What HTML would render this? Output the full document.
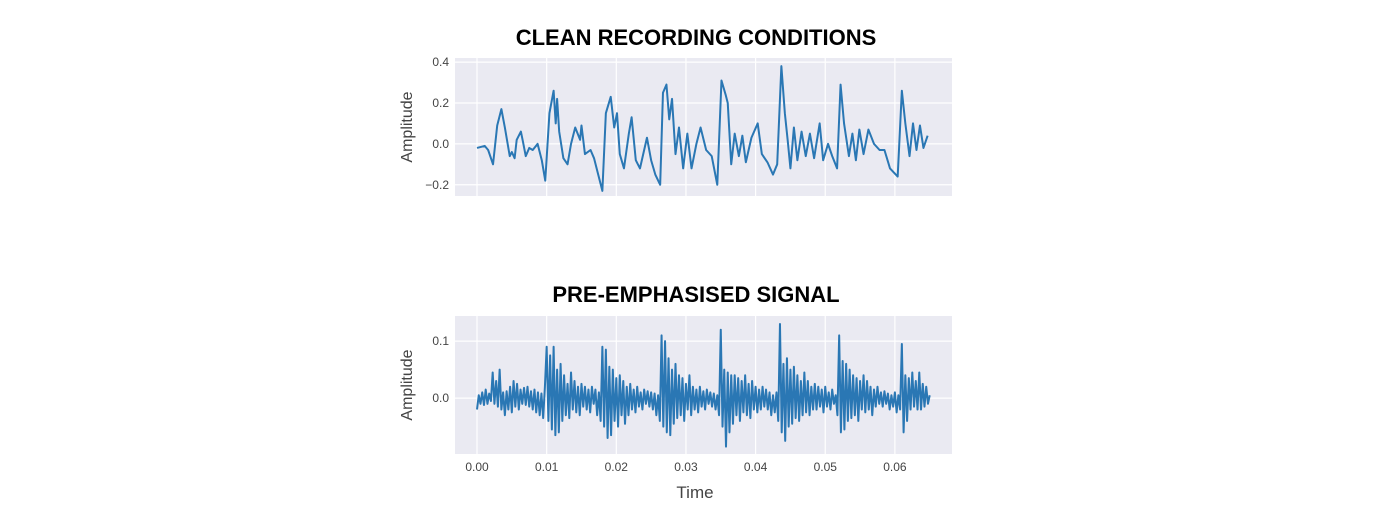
<!DOCTYPE html>
<html><head><meta charset="utf-8"><style>
html,body{margin:0;padding:0;background:#fff;}
body{width:1400px;height:516px;overflow:hidden;font-family:"Liberation Sans",sans-serif;}
</style></head><body>
<svg id="chart" width="1400" height="516" xmlns="http://www.w3.org/2000/svg">
<text x="696" y="45" text-anchor="middle" font-family="Liberation Sans, sans-serif" font-weight="bold" font-size="22" fill="#000">CLEAN RECORDING CONDITIONS</text>
<text x="696" y="302" text-anchor="middle" font-family="Liberation Sans, sans-serif" font-weight="bold" font-size="22" fill="#000">PRE-EMPHASISED SIGNAL</text>
<text x="695" y="498" text-anchor="middle" font-size="17" fill="#444">Time</text>
<g id="top"></g>
<g id="bot"></g>
</svg>
<script>
const xTicks = [0, 0.01, 0.02, 0.03, 0.04, 0.05, 0.06];
const xTickLabels = ["0.00","0.01","0.02","0.03","0.04","0.05","0.06"];
const topYTicks = [-0.2, 0, 0.2, 0.4];
const topYTickLabels = ["\u22120.2","0.0","0.2","0.4"];
const botYTicks = [0, 0.1];
const botYTickLabels = ["0.0","0.1"];
const topTimeMs = [0,1.1,1.6,2.3,2.9,3.5,4.0,4.7,5.0,5.4,5.7,6.3,6.6,7.0,7.5,8.0,8.7,9.3,9.8,10.4,11.0,11.3,11.5,11.8,12.4,13.0,13.5,14.1,14.8,15.0,15.5,16.3,16.8,17.4,18.0,18.5,19.2,19.7,20.1,20.5,21.1,21.8,22.2,22.8,23.4,24.4,25.0,25.6,26.3,26.7,27.2,27.6,28.0,28.5,29.0,29.6,30.2,30.8,31.5,32.1,32.9,33.7,34.5,35.1,35.7,36.0,36.5,37.0,37.6,38.1,38.6,39.4,40.3,40.9,41.7,42.5,43.1,43.7,44.2,44.6,45.0,45.5,46.0,46.6,47.2,47.8,48.4,49.2,49.7,50.4,51.0,51.7,52.2,52.7,53.4,53.9,54.4,54.9,55.5,56.2,57.0,57.8,58.5,59.3,60.4,61.0,61.5,62.1,62.6,63.1,63.6,64.1,64.7];
const topAmp = [-0.02,-0.01,-0.03,-0.10,0.09,0.17,0.08,-0.06,-0.04,-0.07,0.02,0.06,0.01,-0.06,-0.02,-0.03,0.0,-0.08,-0.18,0.15,0.26,0.10,0.22,0.06,-0.07,-0.10,0.0,0.08,0.02,0.09,-0.05,-0.03,-0.07,-0.15,-0.23,0.15,0.23,0.08,0.15,-0.05,-0.12,0.05,0.13,-0.08,-0.12,0.03,-0.08,-0.15,-0.20,0.25,0.29,0.12,0.22,-0.05,0.08,-0.12,0.05,-0.12,0.0,0.08,-0.03,-0.06,-0.20,0.31,0.24,0.20,-0.10,0.05,-0.06,0.04,-0.09,0.03,0.10,-0.05,-0.09,-0.15,-0.10,0.38,0.15,0.02,-0.12,0.08,-0.08,0.06,-0.06,0.05,-0.07,0.10,-0.08,0.0,-0.06,-0.12,0.29,0.10,-0.06,0.05,-0.08,0.07,-0.05,0.07,0.0,-0.03,-0.03,-0.12,-0.16,0.26,0.10,-0.06,0.10,-0.03,0.09,-0.02,0.04];
const botSampleStep = 0.00025;
const botAmp = [-0.02,0.005,-0.01,0.01,-0.012,0.015,-0.01,0.008,-0.005,0.045,-0.01,0.03,-0.015,0.05,-0.02,0.01,-0.03,0.012,-0.02,0.02,-0.025,0.03,-0.015,0.025,-0.02,0.015,-0.01,0.018,-0.012,0.02,-0.015,0.012,-0.02,0.015,-0.025,0.01,-0.03,0.008,-0.035,0.02,
0.09,-0.04,0.075,-0.055,0.09,-0.065,0.05,-0.06,0.06,-0.04,0.04,-0.03,0.025,-0.035,0.045,-0.02,0.03,-0.025,0.02,-0.03,0.025,-0.015,0.02,-0.02,0.015,-0.025,0.02,-0.01,0.015,-0.03,0.01,-0.04,
0.09,-0.05,0.085,-0.07,0.055,-0.065,0.05,-0.04,0.035,-0.05,0.04,-0.03,0.03,-0.045,0.02,-0.03,0.025,-0.02,0.015,-0.025,0.02,-0.015,0.01,-0.02,0.015,-0.01,0.012,-0.015,0.01,-0.02,0.008,-0.03,0.005,-0.04,
0.11,-0.05,0.1,-0.06,0.07,-0.065,0.05,-0.045,0.06,-0.035,0.04,-0.03,0.035,-0.04,0.025,-0.02,0.04,-0.03,0.02,-0.02,0.015,-0.025,0.02,-0.015,0.012,-0.02,0.015,-0.01,0.01,-0.015,0.008,-0.02,0.005,-0.03,
0.12,-0.05,0.05,-0.085,0.045,-0.06,0.04,-0.045,0.04,-0.03,0.035,-0.04,0.03,-0.025,0.04,-0.03,0.025,-0.035,0.03,-0.02,0.02,-0.025,0.015,-0.02,0.02,-0.015,0.015,-0.02,0.01,-0.03,0.005,-0.025,0.01,-0.04,
0.13,-0.06,0.06,-0.075,0.07,-0.05,0.05,-0.045,0.055,-0.035,0.04,-0.04,0.03,-0.03,0.045,-0.025,0.03,-0.03,0.02,-0.02,0.025,-0.02,0.02,-0.015,0.015,-0.025,0.02,-0.015,0.01,-0.02,0.015,-0.01,0.005,-0.03,
0.11,-0.06,0.065,-0.055,0.06,-0.04,0.05,-0.035,0.04,-0.03,0.035,-0.04,0.03,-0.02,0.04,-0.025,0.03,-0.02,0.02,-0.03,0.015,-0.015,0.02,-0.01,0.01,-0.015,0.012,-0.01,0.008,-0.02,0.005,-0.015,0.01,-0.025,0.005,-0.02,
0.095,-0.06,0.04,-0.04,0.035,-0.02,0.045,-0.015,0.03,-0.02,0.045,-0.02,0.025,-0.015,0.02,-0.01,0.005];

const NS = "http://www.w3.org/2000/svg";
const PL = 455, PR = 952;
const xMin = -0.00316, xMax = 0.0682;
function xs(t){ return PL + (t - xMin) / (xMax - xMin) * (PR - PL); }

function mk(tag, attrs, parent){
  const e = document.createElementNS(NS, tag);
  for (const k in attrs) e.setAttribute(k, attrs[k]);
  parent.appendChild(e);
  return e;
}

function drawPanel(g, top, bottom, yMin, yMax, yTicks, yLabels, times, vals, showX, prefix){
  const ys = v => bottom - (v - yMin) / (yMax - yMin) * (bottom - top);
  const bg = mk('rect', {x:PL, y:top, width:PR-PL, height:bottom-top, fill:'#eaeaf2'}, g);
  
  
  xTicks.forEach((t, i) => {
    const l = mk('line', {x1:xs(t), x2:xs(t), y1:top, y2:bottom, stroke:'#fff', 'stroke-width':1.2}, g);
    
    
    if (showX) {
      const tx = mk('text', {x:xs(t), y:bottom+17, 'text-anchor':'middle', 'font-size':12, fill:'#444'}, g);
      tx.textContent = xTickLabels[i];
      
      
    }
  });
  yTicks.forEach((v, i) => {
    const l = mk('line', {x1:PL, x2:PR, y1:ys(v), y2:ys(v), stroke:'#fff', 'stroke-width':1.2}, g);
    
    
    const tx = mk('text', {x:PL-6, y:ys(v)+4, 'text-anchor':'end', 'font-size':12, fill:'#444'}, g);
    tx.textContent = yLabels[i];
    
    
  });
  const cy = (top + bottom) / 2;
  const yt = mk('text', {x:412, y:cy, 'text-anchor':'middle', 'font-size':16, fill:'#444', transform:'rotate(-90 412 ' + cy + ')'}, g);
  yt.textContent = 'Amplitude';
  
  
  let d = '';
  vals.forEach((v, i) => { d += (i ? 'L' : 'M') + xs(times[i]).toFixed(2) + ' ' + ys(v).toFixed(2); });
  const p = mk('path', {d:d, fill:'none', stroke:'#2a77b4', 'stroke-width':2, 'stroke-linejoin':'round'}, g);
  
  
}

const topTimes = topTimeMs.map(m => m / 1000);
drawPanel(document.getElementById('top'), 58, 196, -0.255, 0.42, topYTicks, topYTickLabels, topTimes, topAmp, false, 'top');
const botTimes = botAmp.map((_, i) => i * botSampleStep);
drawPanel(document.getElementById('bot'), 316, 454, -0.098, 0.144, botYTicks, botYTickLabels, botTimes, botAmp, true, 'bottom');
</script>
</body></html>
